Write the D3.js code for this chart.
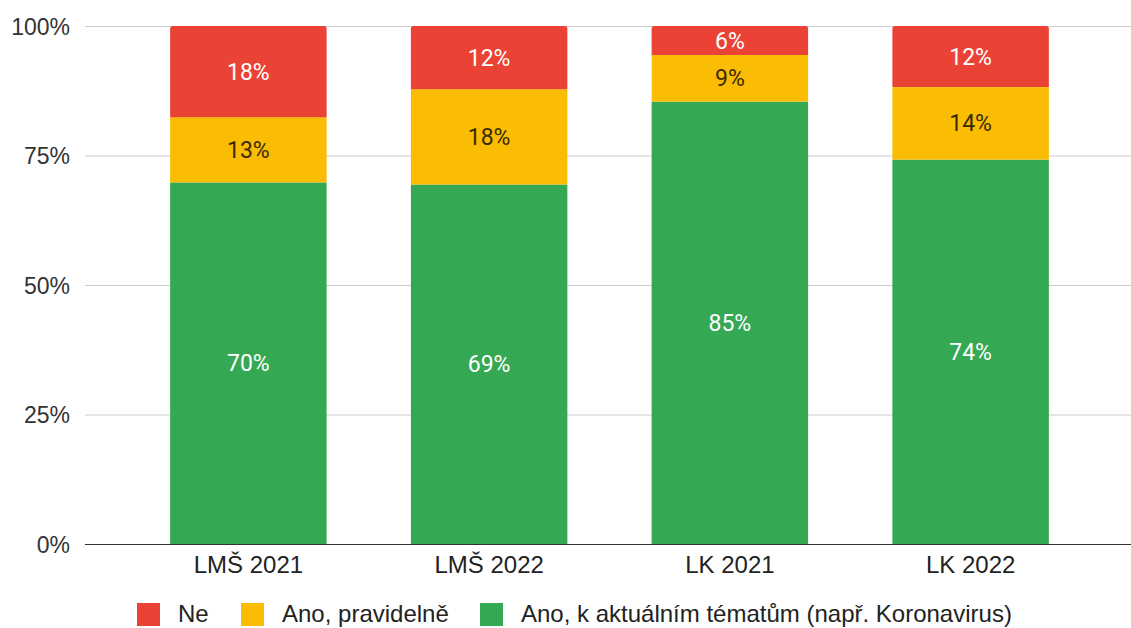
<!DOCTYPE html>
<html><head><meta charset="utf-8">
<script src="https://cdn.jsdelivr.net/npm/d3@7"></script>
<style>body{margin:0;background:#fff}svg{display:block}</style>
</head><body>
<svg id="c" width="1131" height="628"></svg>
<script>
const categories = ["LMŠ 2021", "LMŠ 2022", "LK 2021", "LK 2022"];
const seriesNames = ["Ano, k aktuálním tématům (např. Koronavirus)", "Ano, pravidelně", "Ne"];
const greenVals = [69.8, 69.4, 85.4, 74.2];
const yellowVals = [12.6, 18.4, 9.0, 14.0];
const redVals = [17.6, 12.2, 5.6, 11.8];
const yTicks = [0, 0.25, 0.5, 0.75, 1];
const legendOrder = ["Ne", "Ano, pravidelně", "Ano, k aktuálním tématům (např. Koronavirus)"];

const colors = {"Ne":"#ea4335","Ano, pravidelně":"#fbbc04","Ano, k aktuálním tématům (např. Koronavirus)":"#34a853"};
const labelColors = {"Ne":"#ffffff","Ano, pravidelně":"#3a2a00","Ano, k aktuálním tématům (např. Koronavirus)":"#ffffff"};

const rows = categories.map((c,i)=>({cat:c,
  [seriesNames[0]]:greenVals[i],[seriesNames[1]]:yellowVals[i],[seriesNames[2]]:redVals[i]}));
const stack = d3.stack().keys(seriesNames).offset(d3.stackOffsetExpand)(rows);

const svg = d3.select("#c");
const plotL = 85, plotR = 1131, plotTop = 26, plotBottom = 544;
const x = d3.scaleBand().domain(categories).range([128, 1091]).paddingInner(0.35).paddingOuter(0.175);
const y = d3.scaleLinear().domain([0,1]).range([plotBottom, plotTop]);
const font = "Arial, 'Liberation Sans', sans-serif";

// grid
svg.append("g").selectAll("line").data(yTicks.filter(t=>t>0)).join("line")
  .attr("x1",plotL).attr("x2",plotR).attr("y1",d=>y(d)+0.5).attr("y2",d=>y(d)+0.5)
  .attr("stroke","#cccccc").attr("stroke-width",1);

// y labels
const yAxis = d3.axisLeft(y).tickValues(yTicks).tickFormat(d=>Math.round(d*100)+"%").tickSize(0).tickPadding(0);
const ya = svg.append("g").attr("transform",`translate(70,0)`).call(yAxis);
ya.select(".domain").remove();
ya.selectAll("text").attr("font-family",font).attr("font-size",23).attr("fill","#333").attr("dy","0.35em");

// bars
const clipR = 2.5;
stack.forEach(layer=>{
  const key = layer.key;
  const g = svg.append("g");
  layer.forEach((d,i)=>{
    const x0 = x(categories[i]), w = x.bandwidth();
    const y0 = y(d[1]), y1 = y(d[0]);
    if (key === "Ne") {
      const r = clipR;
      g.append("path").attr("fill",colors[key])
        .attr("d",`M${x0},${y1}V${y0+r}Q${x0},${y0} ${x0+r},${y0}H${x0+w-r}Q${x0+w},${y0} ${x0+w},${y0+r}V${y1}Z`);
    } else {
      g.append("rect").attr("x",x0).attr("y",y0).attr("width",w).attr("height",y1-y0).attr("fill",colors[key]);
    }
    const val = d.data[key];
    g.append("text").attr("x",x0+w/2).attr("y",(y0+y1)/2).attr("dy","0.35em")
      .attr("text-anchor","middle").attr("font-family","Roboto, sans-serif").attr("font-size",23)
      .attr("fill",labelColors[key]).text(Math.round(val)+"%");
  });
});

// baseline
svg.append("line").attr("x1",plotL).attr("x2",plotR).attr("y1",plotBottom+0.5).attr("y2",plotBottom+0.5)
  .attr("stroke","#333").attr("stroke-width",1.2);

// x labels
const xAxis = d3.axisBottom(x).tickSize(0).tickPadding(0);
const xa = svg.append("g").attr("transform",`translate(0,${plotBottom})`).call(xAxis);
xa.select(".domain").remove();
xa.selectAll("text").attr("font-family",font).attr("font-size",24).attr("fill","#222").attr("dy","0").attr("y",29);

// legend
const legX = [137, 241, 480];
const lg = svg.append("g");
legendOrder.forEach((k,i)=>{
  lg.append("rect").attr("x",legX[i]).attr("y",603).attr("width",23).attr("height",23).attr("fill",colors[k]);
  lg.append("text").attr("x",legX[i]+41).attr("y",614).attr("dy","0.35em")
    .attr("font-family",font).attr("font-size",24).attr("fill","#222").text(k);
});
</script>
</body></html>
